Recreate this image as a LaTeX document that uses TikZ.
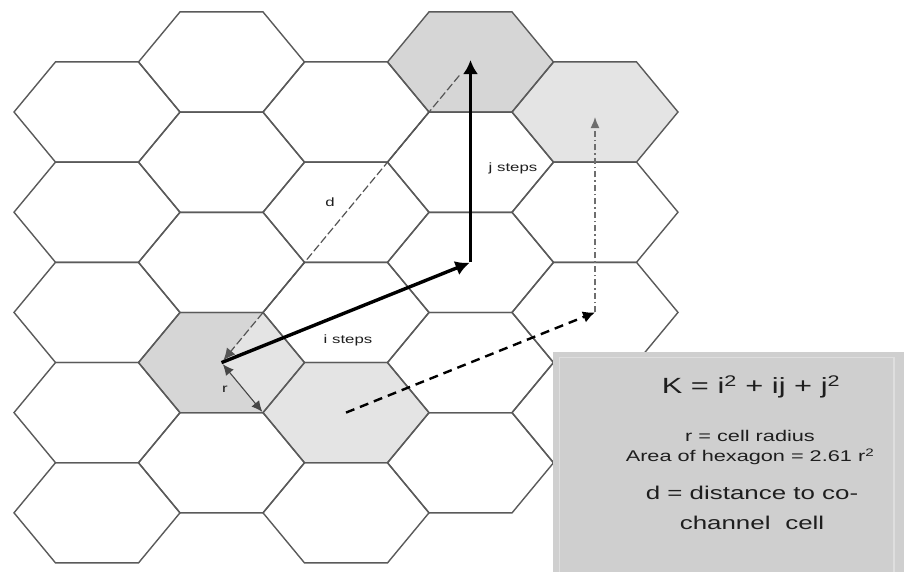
\documentclass[tikz,border=0pt]{standalone}
\usepackage{fontspec}
\setmainfont{Liberation Sans}[FakeStretch=1.4]
\usetikzlibrary{arrows.meta,calc}
\definecolor{hexline}{RGB}{90,90,90}
\definecolor{shadeA}{RGB}{214,214,214}
\definecolor{shadeB}{RGB}{228,228,228}
\definecolor{boxfill}{RGB}{207,207,207}
\definecolor{boxrim}{RGB}{222,222,222}
\definecolor{txt}{RGB}{30,30,30}
\tikzset{
  hexcell/.pic={\path[pic actions] (-83,0) -- (-41.5,-50.1) -- (41.5,-50.1) -- (83,0) -- (41.5,50.1) -- (-41.5,50.1) -- cycle;},
  hexedge/.style={draw=hexline, line width=1.4pt},
  bigarrow/.style={line width=3.4pt, black, -{Latex[length=14pt,width=15pt]}},
  dline/.style={line width=1.2pt, draw={rgb,255:red,85;green,85;blue,85}, dash pattern=on 8pt off 3pt, -{Latex[length=12pt,width=11pt]}},
  rline/.style={line width=1.1pt, draw={rgb,255:red,70;green,70;blue,70}, {Latex[length=11pt,width=10pt]}-{Latex[length=11pt,width=10pt]}},
  dasharrow/.style={line width=2.4pt, black, dash pattern=on 9pt off 6pt, -{Latex[length=12pt,width=12pt]}},
  dotarrow/.style={line width=1.5pt, draw={rgb,255:red,110;green,110;blue,110}, dash pattern=on 6pt off 3pt on 1.5pt off 3pt, -{Latex[length=11pt,width=9pt]}},
  smalllbl/.style={font=\fontsize{12}{14}\selectfont, text=txt, inner sep=1pt},
  boxbig/.style={font=\fontsize{22}{26}\selectfont, text=txt, inner sep=0pt},
  boxmid/.style={font=\fontsize{18.5}{22}\selectfont, text=txt, inner sep=0pt},
  boxsmall/.style={font=\fontsize{15.5}{18}\selectfont, text=txt, inner sep=0pt}
}
\begin{document}
\begin{tikzpicture}[x=1pt,y=-1pt]
\useasboundingbox (0,0) rectangle (904,571);
\fill[white] (0,0) rectangle (904,571);
% cell centres
\foreach \k in {0,...,4}{
  \pgfmathsetmacro\cx{97+124.5*\k}
  \pgfmathsetmacro\cy{mod(\k,2)==1 ? 62 : 112}
  \pgfmathtruncatemacro\jmax{\k==4 ? 3 : 4}
  \foreach \j in {0,...,\jmax}{
    \coordinate (c\k\j) at (\cx, \cy+100.2*\j);
  }
}
% shaded cells
\pic[fill=shadeA] at (c30) {hexcell};
\pic[fill=shadeB] at (c40) {hexcell};
\pic[fill=shadeA] at (c13) {hexcell};
\pic[fill=shadeB] at (c23) {hexcell};
\coordinate (rv) at ($(c13)+(41.5,50.1)$);
\fill[shadeB] (c13) -- ($(c13)+(41.5,-50.1)$) -- ($(c13)+(83,0)$) -- (rv) -- cycle;
% grid
\foreach \k in {0,...,4}{
  \pgfmathtruncatemacro\jmax{\k==4 ? 3 : 4}
  \foreach \j in {0,...,\jmax}{
    \pic[hexedge] at (c\k\j) {hexcell};
  }
}
% arrows
\coordinate (dtop) at ($(c30)!0.045!(c13)$);
\draw[dline, shorten >=3pt] (dtop) -- (c13);
\draw[rline, shorten <=2pt, shorten >=1pt] (c13) -- (rv);
\draw[bigarrow, shorten >=1pt] (c13) -- (c32);
\draw[bigarrow, shorten >=-2pt] (c32) -- (c30);
\draw[dasharrow] (c23) -- (c42);
\draw[dotarrow, shorten >=5pt] (c42) -- (c40);
% labels
\node[smalllbl] (lbli) at (348,340) {i steps};
\node[smalllbl] (lblj) at (513,168) {j steps};
\node[smalllbl] (lbld) at (330,202) {d};
\node[smalllbl] (lblr) at (225,389) {r};
% info box
\fill[boxfill] (553,352) rectangle (910,580);
\draw[boxrim, line width=1.5pt] (559.5,357.5) rectangle (894,590);
\node[boxbig] (kform) at (751,387) {K = i\textsuperscript{2} + ij + j\textsuperscript{2}};
\node[boxsmall] (rdef) at (750,436) {r = cell radius};
\node[boxsmall] (area) at (750,457) {Area of hexagon = 2.61 r\textsuperscript{2}};
\node[boxmid] (ddef1) at (752,493) {d = distance to co-};
\node[boxmid] (ddef2) at (752,523) {channel\hspace{0.8em}cell};
\end{tikzpicture}
\end{document}
